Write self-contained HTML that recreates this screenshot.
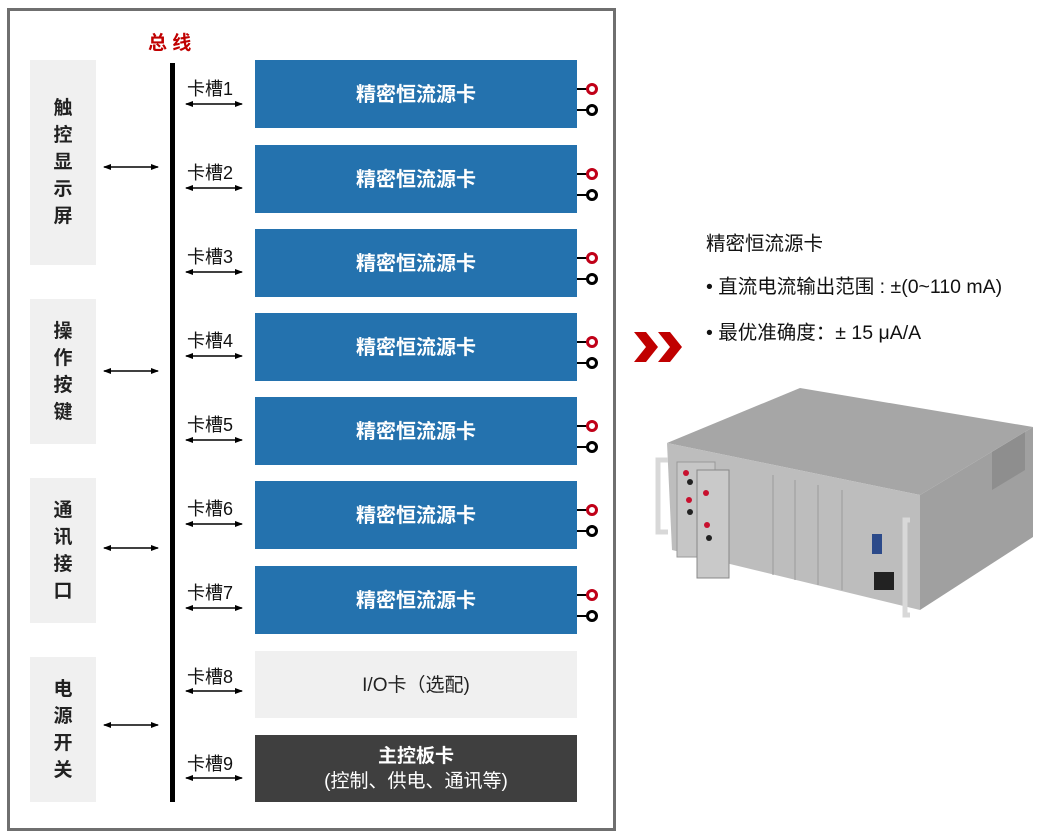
<!DOCTYPE html>
<html><head><meta charset="utf-8"><style>
body{margin:0;width:1061px;height:837px;background:#fff;position:relative;overflow:hidden;font-family:"Liberation Sans","Noto Sans CJK SC",sans-serif;}
.a{position:absolute;}
.frame{left:7px;top:8px;width:603px;height:817px;border:3px solid #6f6f6f;}
.lb{background:#f0f0f0;width:66px;left:30px;display:flex;align-items:center;justify-content:center;font-weight:bold;font-size:19px;line-height:27px;text-align:center;color:#222;}
.card{left:255px;width:322px;height:68px;background:#2472ae;color:#fff;font-weight:bold;font-size:20px;display:flex;align-items:center;justify-content:center;padding-bottom:3px;box-sizing:border-box;}
.slot{left:187px;font-size:18px;color:#111;}
.t{font-size:19.5px;color:#111;white-space:nowrap;}
</style></head><body>
<div class="a frame"></div>
<div class="a" style="left:148px;top:28px;color:#c00000;font-weight:bold;font-size:19px;">总 线</div>
<div class="a" style="left:170px;top:63px;width:5px;height:739px;background:#000"></div>
<div class="a lb" style="top:60px;height:205px">触<br>控<br>显<br>示<br>屏</div>
<div class="a lb" style="top:299px;height:145px">操<br>作<br>按<br>键</div>
<div class="a lb" style="top:478px;height:145px">通<br>讯<br>接<br>口</div>
<div class="a lb" style="top:657px;height:145px">电<br>源<br>开<br>关</div>
<div class="a card" style="top:60px">精密恒流源卡</div>
<div class="a card" style="top:145px">精密恒流源卡</div>
<div class="a card" style="top:229px">精密恒流源卡</div>
<div class="a card" style="top:313px">精密恒流源卡</div>
<div class="a card" style="top:397px">精密恒流源卡</div>
<div class="a card" style="top:481px">精密恒流源卡</div>
<div class="a card" style="top:566px">精密恒流源卡</div>
<div class="a card" style="top:651px;height:67px;background:#f0f0f0;color:#222;font-weight:normal;font-size:19px">I/O卡（选配)</div>
<div class="a card" style="top:735px;height:67px;background:#3f3f3f;flex-direction:column;line-height:25px;font-size:19px;padding:0"><span>主控板卡</span><span style="font-weight:normal">(控制、供电、通讯等)</span></div>
<div class="a slot" style="top:75px">卡槽1</div>
<div class="a slot" style="top:159px">卡槽2</div>
<div class="a slot" style="top:243px">卡槽3</div>
<div class="a slot" style="top:327px">卡槽4</div>
<div class="a slot" style="top:411px">卡槽5</div>
<div class="a slot" style="top:495px">卡槽6</div>
<div class="a slot" style="top:579px">卡槽7</div>
<div class="a slot" style="top:663px">卡槽8</div>
<div class="a slot" style="top:750px">卡槽9</div>
<div class="a t" style="left:706px;top:227px">精密恒流源卡</div>
<div class="a t" style="left:706px;top:270px">• 直流电流输出范围 : ±(0~110 mA)</div>
<div class="a t" style="left:706px;top:316px">• 最优准确度：± 15 μA/A</div>
<svg class="a" style="left:0;top:0" width="1061" height="837">
<defs><marker id="ah" markerUnits="userSpaceOnUse" markerWidth="8" markerHeight="6" refX="7" refY="3" orient="auto-start-reverse"><path d="M0,0L8,3L0,6z" fill="#000"/></marker></defs>
<g stroke="#000" stroke-width="1.5" marker-start="url(#ah)" marker-end="url(#ah)">
<line x1="186" y1="104" x2="242" y2="104"/><line x1="186" y1="188" x2="242" y2="188"/>
<line x1="186" y1="272" x2="242" y2="272"/><line x1="186" y1="356" x2="242" y2="356"/>
<line x1="186" y1="440" x2="242" y2="440"/><line x1="186" y1="524" x2="242" y2="524"/>
<line x1="186" y1="608" x2="242" y2="608"/><line x1="186" y1="691" x2="242" y2="691"/>
<line x1="186" y1="778" x2="242" y2="778"/>
<line x1="104" y1="167" x2="158" y2="167"/><line x1="104" y1="371" x2="158" y2="371"/>
<line x1="104" y1="548" x2="158" y2="548"/><line x1="104" y1="725" x2="158" y2="725"/>
</g>
<g id="term">
<line x1="577" y1="89" x2="588" y2="89" stroke="#000" stroke-width="2"/>
<circle cx="592" cy="89" r="4.5" fill="#fff" stroke="#c00018" stroke-width="3"/>
<line x1="577" y1="110" x2="588" y2="110" stroke="#000" stroke-width="2"/>
<circle cx="592" cy="110" r="4.5" fill="#fff" stroke="#000" stroke-width="3"/>
</g>
<use href="#term" y="85"/><use href="#term" y="169"/><use href="#term" y="253"/>
<use href="#term" y="337"/><use href="#term" y="421"/><use href="#term" y="506"/>
<path d="M634,332h12l12,15l-12,15h-12l12,-15z M658,332h12l12,15l-12,15h-12l12,-15z" fill="#c00000"/>
<polygon points="667,443 800,388 1033,427 920,495" fill="#a6a6a6"/>
<polygon points="667,443 920,495 920,610 672,550" fill="#bdbdbd"/>
<polygon points="920,495 1033,427 1033,537 920,610" fill="#a0a0a0"/>
<polygon points="992,452 1025,432 1025,470 992,490" fill="#8e8e8e"/>
<rect x="677" y="462" width="38" height="95" fill="#c6c6c6" stroke="#999"/>
<rect x="697" y="470" width="32" height="108" fill="#c9c9c9" stroke="#888"/>
<g fill="#c8102e"><circle cx="686" cy="473" r="3"/><circle cx="706" cy="493" r="3"/><circle cx="707" cy="525" r="3"/><circle cx="689" cy="500" r="3"/></g>
<g fill="#222"><circle cx="690" cy="482" r="3"/><circle cx="690" cy="512" r="3"/><circle cx="709" cy="538" r="3"/></g>
<g stroke="#9a9a9a"><line x1="773" y1="475" x2="773" y2="575"/><line x1="795" y1="480" x2="795" y2="580"/><line x1="818" y1="485" x2="818" y2="585"/><line x1="842" y1="490" x2="842" y2="590"/></g>
<rect x="874" y="572" width="20" height="18" fill="#222"/>
<rect x="872" y="534" width="10" height="20" fill="#2c4a8a"/>
<path d="M668,460 h-10 v72 h10" fill="none" stroke="#d8d8d8" stroke-width="5"/>
<path d="M910,520 h-5 v95 h5" fill="none" stroke="#d8d8d8" stroke-width="5"/>
</svg>
</body></html>
